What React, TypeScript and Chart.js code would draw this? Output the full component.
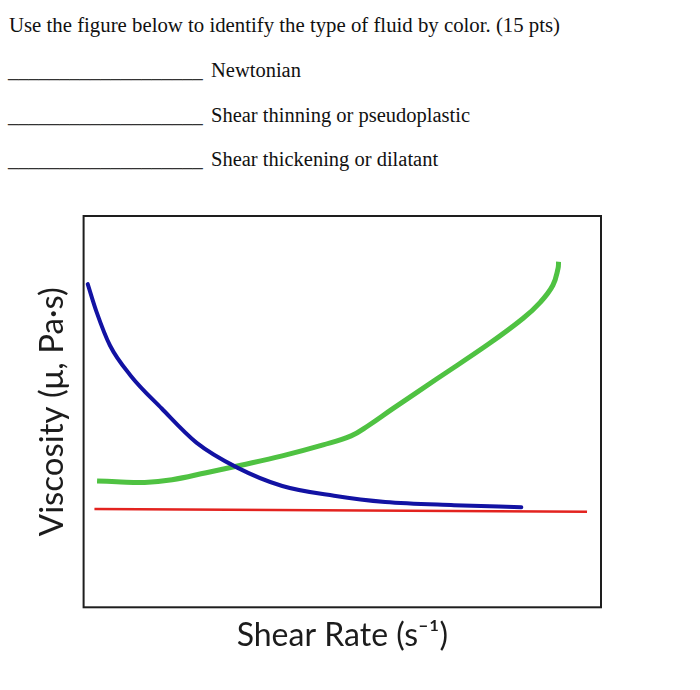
import React, { useEffect, useRef } from "react";
import { Chart, registerables } from "chart.js";

Chart.register(...registerables);

// ---- Data (arbitrary units 0-100) ----
const newtonianX = [2.1, 97.3];
const newtonianY = [25.1, 24.4];

const thinningX = [0.8, 2.5, 5.1, 9.1, 15.1, 21.8, 29.7, 38.4, 48.4, 58.3, 71.6, 84.6];
const thinningY = [82.6, 75.5, 66.9, 59.2, 50.8, 42.1, 35.7, 31.0, 28.5, 26.9, 26.1, 25.6];

const thickeningX = [2.6, 6.4, 11.8, 17.1, 23.7, 30.4, 38.4, 46.3, 51.7, 55.0, 59.7, 68.3, 78.4, 84.9, 88.3, 90.7, 91.7, 91.8];
const thickeningY = [32.3, 32.1, 31.9, 32.6, 34.4, 36.3, 38.7, 41.5, 43.8, 46.4, 50.7, 58.4, 67.4, 73.8, 78.0, 82.3, 86.6, 88.3];

const questionText = "Use the figure below to identify the type of fluid by color. (15 pts)";
const answerLabels = ["Newtonian", "Shear thinning or pseudoplastic", "Shear thickening or dilatant"];
const xTitle = "Shear Rate (s\u207B\u00B9)";
const yTitle = "Viscosity (\u03BC, Pa\u00B7s)";

const toPoints = (xs: number[], ys: number[]) => xs.map((x, i) => ({ x, y: ys[i] }));

const framePlugin = {
  id: "frame",
  afterDraw(chart: any) {
    const { ctx, chartArea } = chart;
    ctx.save();
    ctx.strokeStyle = "#1e1e1e";
    ctx.lineWidth = 2;
    ctx.strokeRect(chartArea.left, chartArea.top, chartArea.right - chartArea.left, chartArea.bottom - chartArea.top);
    ctx.restore();
  },
};

function ViscosityChart() {
  const ref = useRef<HTMLCanvasElement | null>(null);
  useEffect(() => {
    if (!ref.current) return;
    const chart = new Chart(ref.current, {
      type: "line",
      data: {
        datasets: [
          {
            label: "Red",
            data: toPoints(newtonianX, newtonianY),
            borderColor: "#e3231f",
            borderWidth: 2.5,
            pointRadius: 0,
            tension: 0,
          },
          {
            label: "Blue",
            data: toPoints(thinningX, thinningY),
            borderColor: "#1212a3",
            borderWidth: 4,
            pointRadius: 0,
            cubicInterpolationMode: "monotone",
            borderCapStyle: "round",
          },
          {
            label: "Green",
            data: toPoints(thickeningX, thickeningY),
            borderColor: "#4fc242",
            borderWidth: 5,
            pointRadius: 0,
            tension: 0.4,
            borderCapStyle: "butt",
          },
        ],
      },
      options: {
        animation: false,
        responsive: false,
        events: [],
        layout: { padding: { left: 33, right: 99, top: 26, bottom: 30 } },
        plugins: { legend: { display: false }, tooltip: { enabled: false } },
        scales: {
          x: {
            type: "linear",
            min: 0,
            max: 100,
            grid: { display: false },
            border: { display: false },
            ticks: { display: false },
            title: {
              display: true,
              text: xTitle,
              color: "#1c1c1c",
              font: { family: "Lato", size: 32 },
              padding: { top: 0.8, bottom: 5.5 },
            },
          },
          y: {
            min: 0,
            max: 100,
            grid: { display: false },
            border: { display: false },
            ticks: { display: false },
            title: {
              display: true,
              text: yTitle,
              color: "#1c1c1c",
              font: { family: "Lato", size: 33 },
              padding: { top: 0, bottom: 3 },
            },
          },
        },
      },
      plugins: [framePlugin],
    });
    return () => chart.destroy();
  }, []);
  return <canvas ref={ref} width={700} height={500} style={{ position: "absolute", left: 0, top: 190, width: 700, height: 500 }} />;
}

export default function App() {
  const serif = "'Liberation Serif', 'Times New Roman', serif";
  const itemTops = [59.8, 104.5, 148.8];
  return (
    <div style={{ position: "absolute", left: 0, top: 0, width: 700, height: 690, background: "#fff", overflow: "hidden" }}>
      <div style={{ position: "absolute", left: 9, top: 13.6, fontFamily: serif, fontSize: 20.8, lineHeight: "21px", color: "#111", whiteSpace: "nowrap" }}>
        {questionText}
      </div>
      {answerLabels.map((t, i) => (
        <React.Fragment key={t}>
          <div style={{ position: "absolute", left: 8, top: itemTops[i], fontFamily: serif, fontSize: 20.5, lineHeight: "20.5px", color: "#333", whiteSpace: "nowrap" }}>
            {"___________________"}
          </div>
          <div style={{ position: "absolute", left: 211, top: itemTops[i], fontFamily: serif, fontSize: 20.5, lineHeight: "20.5px", color: "#111", whiteSpace: "nowrap" }}>
            {t}
          </div>
        </React.Fragment>
      ))}
      <ViscosityChart />
    </div>
  );
}
